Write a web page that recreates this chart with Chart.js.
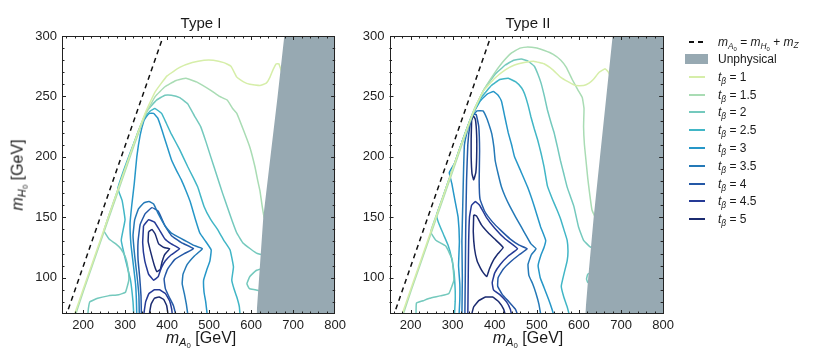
<!DOCTYPE html>
<html>
<head>
<meta charset="utf-8">
<script src="https://cdn.jsdelivr.net/npm/chart.js@4.4.0/dist/chart.umd.min.js"></script>
<style>
  body { margin: 0; width: 822px; height: 352px; background: #fff; position: relative; overflow: hidden;
         font-family: "Liberation Sans", Arial, sans-serif; color: #1a1a1a; }
  canvas { position: absolute; top: 0; }
  .t { position: absolute; white-space: nowrap; transform: translate(-50%, -50%); line-height: 1; }
  .ttl { font-size: 15px; }
  .ax { font-size: 16px; }
  sub { font-size: 70%; vertical-align: -0.3em; line-height: 0; }
  .lg { position: absolute; left: 718px; font-size: 12px; white-space: nowrap; transform: translateY(-50%); line-height: 1; }
  .sw { position: absolute; height: 2px; }
</style>
</head>
<body>
<canvas id="c1" width="350" height="352" style="left:0px"></canvas>
<canvas id="c2" width="350" height="352" style="left:328px"></canvas>

<div class="t ttl" style="left:201px;top:22px">Type I</div>
<div class="t ttl" style="left:528px;top:22px">Type II</div>
<div class="t ax" style="left:201px;top:338px"><i>m</i><sub><i>A</i><sub>0</sub></sub> [GeV]</div>
<div class="t ax" style="left:528px;top:338px"><i>m</i><sub><i>A</i><sub>0</sub></sub> [GeV]</div>
<div class="t ax" style="left:18px;top:175px;transform:translate(-50%,-50%) rotate(-90deg)"><i>m</i><sub><i>H</i><sub>0</sub></sub> [GeV]</div>

<div id="legend"></div>

<script>
// axis ranges and tick labels
const xRange = [150, 800];
const yRange = [70, 300];
const xTicks = [200, 300, 400, 500, 600, 700, 800];
const yTicks = [100, 150, 200, 250, 300];

// tan(beta) levels
const tbLevels = ['1', '1.5', '2', '2.5', '3', '3.5', '4', '4.5', '5'];
const tbColors = ['#d6eea9', '#a9dcb4', '#74c9bd', '#41b6c6', '#2697c8', '#2479b7', '#2458a6', '#253a96', '#1b2b70'];

// m_A0 = m_H0 + m_Z
const kinLine = [[165, 74], [387, 296]];

// unphysical region edge
const unphysI = [[613, 70], [619, 100], [629, 150], [646, 200], [663, 250], [679, 300], [820, 300]];
const unphysII = [[615, 70], [622, 100], [635, 150], [650, 200], [665, 250], [680, 300], [820, 300]];

// Type I contours
const I_t1 = [[178,68],[200,90],[240,130],[280,170],[320,210],[350,238],[372,254],[400,267],[430,274],[460,278],[488,280],[510,280],[535,278],[552,275],[566,266],[582,262],[597,260],[621,259],[636,261],[645,266],[652,272],[660,277],[666,277],[672,271],[690,255]];
const I_t15 = [[181,68],[202,90],[242,130],[282,170],[322,210],[350,236],[372,250],[395,258],[420,263],[445,265],[470,262],[504,255],[525,250],[543,247],[556,240],[566,236],[582,222],[597,208],[609,192],[616,180],[621,172],[626,160],[631,150],[645,140]];
const I_t2 = [[211,68],[213,75],[216,80],[235,83],[260,85],[285,86],[301,88],[309,98],[307,108],[301,117],[290,124],[278,128],[262,132],[250,139],[270,160],[300,190],[330,220],[352,238],[375,247],[395,251],[410,251],[430,249],[449,244],[465,234],[480,225],[493,212],[504,200],[519,184],[532,170],[543,159],[555,147],[566,137],[580,129],[598,124],[615,120],[640,118]];
const I_t2b = [[630,108],[612,106],[597,101],[590,95],[596,91],[610,90],[630,88]];
const I_t25 = [[321,68],[319,80],[313,98],[301,115],[291,131],[300,148],[293,164],[283,174],[300,192],[325,215],[345,232],[360,238],[371,240],[387,236],[398,228],[410,219],[430,206],[449,192],[462,183],[473,175],[488,159],[504,148],[520,140],[535,131],[550,123],[558,109],[554,98],[560,90],[566,84],[572,76],[574,68]];
const I_t3 = [[328,68],[327,82],[325,95],[320,110],[314,128],[312,145],[316,160],[322,178],[328,200],[336,218],[345,230],[350,233],[358,236],[368,236],[378,232],[388,222],[398,211],[410,198],[422,189],[434,181],[445,172],[455,163],[466,150],[478,137],[492,130],[505,123],[502,114],[494,106],[487,98],[488,88],[492,80],[496,68]];
const I_t35 = [[334,68],[333,85],[329,100],[323,118],[319,135],[323,148],[332,157],[345,162],[357,163],[368,161],[379,153],[395,143],[410,137],[425,134],[441,131],[462,127],[484,124],[465,118],[448,111],[438,103],[436,95],[441,87],[446,78],[450,68]];
const I_t4 = [[339,68],[338,85],[335,100],[331,115],[331,130],[336,144],[348,153],[364,158],[379,155],[395,143],[410,135],[434,129],[463,124],[441,120],[418,115],[401,107],[393,99],[396,91],[405,84],[415,77],[422,68]];
const I_t45 = [[344,143],[356,148],[370,146],[381,140],[395,132],[410,128],[430,124],[410,119],[396,114],[386,108],[379,101],[368,98],[356,103],[347,114],[342,129],[344,143]];
const I_t45b = [[344,68],[349,80],[357,87],[370,90],[382,90],[396,87],[406,81],[411,74],[413,68]];
const I_t5 = [[356,138],[364,140],[372,136],[380,128],[393,125],[406,124],[394,119],[388,113],[384,107],[376,105],[370,110],[362,120],[355,130],[356,138]];
const I_t5b = [[357,68],[362,78],[370,83],[381,84],[392,82],[399,77],[403,68]];

// Type II contours
const II_t1 = [[178,68],[200,90],[240,130],[280,170],[320,210],[350,238],[372,254],[400,265],[425,272],[447,276],[470,278],[494,279],[517,277],[538,272],[556,266],[575,262],[592,259],[611,259],[624,261],[634,264],[648,270],[662,273],[670,270],[690,255]];
const II_t15 = [[181,68],[202,90],[242,130],[282,170],[322,210],[350,237],[372,254],[395,267],[418,278],[440,286],[460,290],[478,291],[500,290],[518,288],[538,285],[557,280],[570,274],[584,264],[598,255],[608,249],[612,240],[611,225],[613,210],[617,196],[621,182],[626,168],[631,156],[645,145]];
const II_t2 = [[213,68],[214,79],[230,81],[245,83],[270,85],[291,87],[303,98],[299,115],[284,126],[260,131],[248,138],[270,160],[300,190],[330,220],[352,240],[375,256],[400,268],[425,276],[445,280],[463,281],[480,279],[494,275],[503,268],[510,261],[518,250],[525,239],[533,229],[541,220],[549,208],[556,197],[564,186],[572,175],[580,167],[588,159],[599,142],[611,131],[625,126],[645,122]];
const II_t2b = [[630,104],[621,103],[618,99],[621,96],[630,95]];
const II_t25 = [[304,68],[306,80],[306,90],[303,105],[297,117],[289,127],[278,136],[266,146],[262,152],[275,165],[300,190],[325,215],[347,235],[370,250],[392,259],[412,264],[432,265],[450,262],[464,257],[471,252],[479,243],[486,233],[494,223],[502,214],[510,203],[517,192],[525,176],[537,165],[548,156],[557,148],[565,139],[572,131],[574,122],[572,114],[565,104],[558,93],[564,84],[572,76],[578,68]];
const II_t3 = [[315,68],[317,82],[317,95],[314,110],[316,130],[313,150],[306,163],[298,178],[292,187],[305,195],[325,215],[346,234],[365,246],[382,252],[397,254],[408,251],[416,246],[424,233],[432,220],[440,210],[447,200],[462,188],[478,175],[494,159],[509,142],[521,131],[517,125],[510,119],[503,110],[508,100],[517,92],[528,82],[536,74],[541,68]];
const II_t35 = [[322,68],[323,100],[322,130],[324,160],[326,190],[328,210],[336,223],[345,233],[358,238],[372,238],[381,232],[388,225],[393,219],[398,208],[401,197],[408,186],[416,175],[425,167],[436,159],[450,150],[463,142],[476,134],[486,128],[498,124],[487,119],[479,111],[481,102],[490,95],[498,87],[505,78],[510,68]];
const II_t4 = [[329,68],[330,100],[331,140],[333,180],[336,210],[341,226],[348,235],[356,235],[362,225],[364,205],[363,180],[365,165],[376,155],[395,146],[415,139],[437,132],[458,127],[477,124],[458,119],[437,113],[420,107],[408,100],[407,93],[418,86],[434,80],[449,74],[456,68]];
const II_t45 = [[336,68],[337,100],[338,130],[340,150],[345,160],[354,163],[364,160],[380,150],[400,141],[425,132],[454,124],[432,118],[413,111],[400,104],[394,96],[397,90],[412,86],[428,80],[437,74],[441,68]];
const II_t5 = [[345,230],[349,234],[354,231],[357,218],[357,200],[355,187],[350,181],[346,186],[344,200],[344,215],[345,230]];
const II_t5b = [[350,152],[357,151],[368,144],[385,137],[400,132],[420,125],[408,120],[396,114],[387,107],[381,101],[373,104],[366,108],[358,114],[352,124],[349,138],[350,152]];
const II_t5c = [[344,68],[350,76],[362,81],[378,84],[395,84],[410,80],[421,74],[426,68]];

// [level index, points]
const typeI = [[0, I_t1], [1, I_t15], [2, I_t2], [2, I_t2b], [3, I_t25], [4, I_t3], [5, I_t35], [6, I_t4], [7, I_t45], [7, I_t45b], [8, I_t5], [8, I_t5b]];
const typeII = [[0, II_t1], [1, II_t15], [2, II_t2], [2, II_t2b], [3, II_t25], [4, II_t3], [5, II_t35], [6, II_t4], [7, II_t45], [8, II_t5], [8, II_t5b], [8, II_t5c]];

const GRAY = '#97a9b2';
const pts = a => a.map(p => ({ x: p[0], y: p[1] }));

// frame with inward ticks on all four sides
const framePlugin = {
  id: 'frame',
  afterDatasetsDraw(chart) {
    const { ctx, chartArea: a, scales: { x, y } } = chart;
    ctx.save();
    ctx.strokeStyle = '#222';
    ctx.lineWidth = 1;
    ctx.strokeRect(Math.round(a.left) + 0.5, Math.round(a.top) + 0.5, Math.round(a.right - a.left) - 1, Math.round(a.bottom - a.top) - 1);
    ctx.beginPath();
    for (let v = 160; v < 800; v += 20) {
      const px = Math.round(x.getPixelForValue(v)) + 0.5;
      const len = v % 100 === 0 ? 4 : 2.5;
      ctx.moveTo(px, a.bottom); ctx.lineTo(px, a.bottom - len);
      ctx.moveTo(px, a.top); ctx.lineTo(px, a.top + len);
    }
    for (let v = 80; v < 300; v += 10) {
      const py = Math.round(y.getPixelForValue(v)) + 0.5;
      const len = v % 50 === 0 ? 4 : 2.5;
      ctx.moveTo(a.left, py); ctx.lineTo(a.left + len, py);
      ctx.moveTo(a.right, py); ctx.lineTo(a.right - len, py);
    }
    ctx.stroke();
    ctx.restore();
  }
};

function makeChart(id, contours, unphys, yWidth, padRight) {
  const datasets = [
    { data: pts(unphys), fill: 'start', backgroundColor: GRAY, borderWidth: 0, pointRadius: 0, order: 0 },
    { data: pts(kinLine), borderColor: '#111', borderWidth: 1.5, borderDash: [5, 4], pointRadius: 0, fill: false, order: 1 }
  ];
  contours.forEach((c, i) => {
    datasets.push({
      data: pts(c[1]), borderColor: tbColors[c[0]], borderWidth: 1.5, pointRadius: 0,
      fill: false, tension: 0.1, order: 2 + i
    });
  });
  return new Chart(document.getElementById(id), {
    type: 'line',
    data: { datasets },
    options: {
      responsive: false,
      animation: false,
      layout: { padding: { top: 36, right: padRight, left: 0, bottom: 0 } },
      plugins: { legend: { display: false }, tooltip: { enabled: false } },
      scales: {
        x: {
          type: 'linear', min: xRange[0], max: xRange[1],
          grid: { display: false, drawTicks: false }, border: { display: false },
          ticks: { font: { size: 13, family: '"Liberation Sans", Arial' }, color: '#222', padding: 4, maxRotation: 0 },
          afterBuildTicks: s => { s.ticks = xTicks.map(v => ({ value: v })); },
          afterFit: s => { s.height = 38; }
        },
        y: {
          type: 'linear', min: yRange[0], max: yRange[1],
          grid: { display: false, drawTicks: false }, border: { display: false },
          ticks: { font: { size: 13, family: '"Liberation Sans", Arial' }, color: '#222', padding: 5 },
          afterBuildTicks: s => { s.ticks = yTicks.map(v => ({ value: v })); },
          afterFit: s => { s.width = yWidth; }
        }
      }
    },
    plugins: [framePlugin]
  });
}

makeChart('c1', typeI, unphysI, 62, 10);
makeChart('c2', typeII, unphysII, 61.5, 10.5);

// legend
const lg = document.getElementById('legend');
let html = '';
html += '<div class="sw" style="left:689px;top:41px;width:5px;background:#111"></div>';
html += '<div class="sw" style="left:698px;top:41px;width:5px;background:#111"></div>';
html += '<div class="lg" style="top:42px"><i>m</i><sub><i>A</i><sub>0</sub></sub> = <i>m</i><sub><i>H</i><sub>0</sub></sub> + <i>m</i><sub><i>Z</i></sub></div>';
html += '<div class="sw" style="left:685px;top:54px;width:23px;height:10px;background:' + GRAY + '"></div>';
html += '<div class="lg" style="top:59px">Unphysical</div>';
tbLevels.forEach((lv, i) => {
  const yc = 76.7 + i * 17.8;
  html += '<div class="sw" style="left:689px;top:' + (yc - 1).toFixed(1) + 'px;width:16px;background:' + tbColors[i] + '"></div>';
  html += '<div class="lg" style="top:' + yc.toFixed(1) + 'px"><i>t</i><sub><i>β</i></sub> = ' + lv + '</div>';
});
lg.innerHTML = html;
</script>
</body>
</html>
